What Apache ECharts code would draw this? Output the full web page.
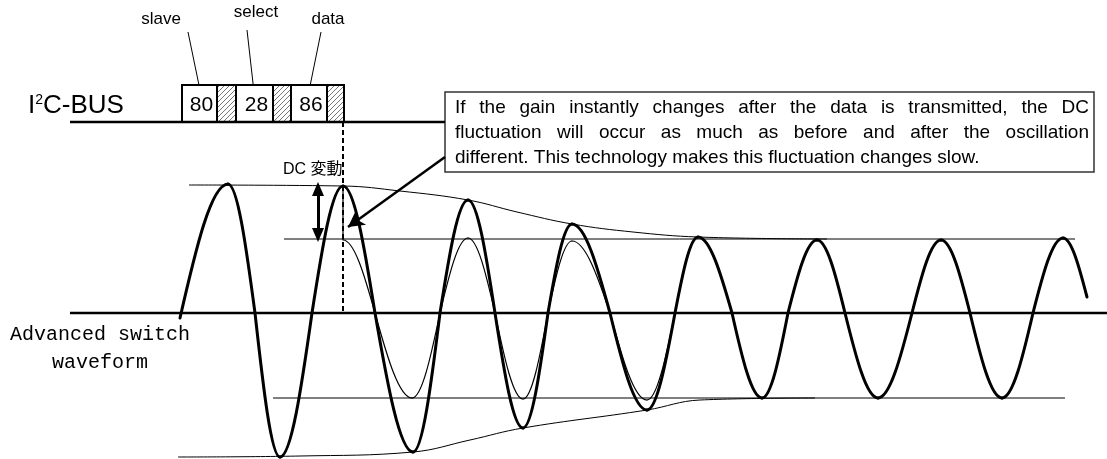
<!DOCTYPE html>
<html><head><meta charset="utf-8">
<script src="https://cdn.jsdelivr.net/npm/echarts@6/dist/echarts.min.js"></script>
<style>html,body{margin:0;padding:0;background:#fff}#c{width:1107px;height:459px}</style>
</head><body><div id="c"></div>
<script>
// time t: arbitrary units from start of the oscillation; amplitude a: arbitrary units, 0 = baseline
// waveforms are given by their read-off extrema and baseline crossings
const thickT = [0,48,75,100,132,163,195,233,260,288,315,343,368,392,430,467,495,518,552,582,608,637,665,698,732,761,790,822,853,883,907];
const thickA = [-5,129,0,-144,0,127,0,-139,0,113,0,-115,0,89,0,-97,0,76,0,-85,0,73,0,-85,0,73,0,-85,0,75,16];
const thinT = [163,195,232,260,288,315,343,368,392,430,467,495,518];
const thinA = [73,0,-85,0,75,0,-86,0,72,0,-87,0,76];
const stepT = [163,163];
const stepA = [127,73];
const upperEnvT = [9,163,220,288,337,392,453,518,647];
const upperEnvA = [128,127,122,113,101,89,81,76,74];
const lowerEnvT = [-2,120,233,290,343,467,520,635];
const lowerEnvA = [-144,-143,-139,-127,-115,-97,-87,-85];
const upperLevelT = [104,895];
const upperLevelA = 74;
const lowerLevelT = [93,885];
const lowerLevelA = -85;
const baselineT = [-110,927];
const busT = [-110,265];
const busLevel = 191;
const boxTop = 228;
const transferT = 163;
const byteStart = [2,37,56,93,111,147];
const byteEnd = [37,56,93,111,147,164];
const byteLabels = ['80','','28','','86',''];
const fieldNames = ['slave','select','data'];
const dcArrowT = 138;
const dcArrowA = [124,78];
const calloutArrowT = [265,168];
const calloutArrowA = [156,86];
const calloutLines = [
  "If the gain instantly changes after the data is transmitted, the DC",
  "fluctuation will occur as much as before and after the oscillation",
  "different. This technology makes this fluctuation changes slow."
];
const dcLabel = 'DC 変動';
const waveLabel = ['Advanced switch','waveform'];

const zip = (ts, as) => ts.map((t, i) => [t, Array.isArray(as) ? as[i] : as]);

// hatch pattern
const pc = document.createElement('canvas');
pc.width = 5; pc.height = 5;
const pctx = pc.getContext('2d');
pctx.fillStyle = '#fff'; pctx.fillRect(0,0,5,5);
pctx.strokeStyle = '#777'; pctx.lineWidth = 1;
pctx.beginPath(); pctx.moveTo(-1,6); pctx.lineTo(6,-1); pctx.stroke();
pctx.beginPath(); pctx.moveTo(-1,1); pctx.lineTo(1,-1); pctx.stroke();
pctx.beginPath(); pctx.moveTo(4,6); pctx.lineTo(6,4); pctx.stroke();

const chart = echarts.init(document.getElementById('c'), null, {renderer:'canvas'});

const plain = (name, data, width, extra) => Object.assign({
  name, type:'line', data, symbol:'none', silent:true, animation:false,
  lineStyle:{color:'#000', width}, emphasis:{disabled:true}
}, extra || {});

// sine-like wave drawn quarter by quarter between read-off extrema and crossings
const waveSeries = (name, ts, as, width) => ({
  name, type:'custom', silent:true, animation:false,
  data: ts.slice(1).map((t, i) => [ts[i], as[i], t, as[i+1]]),
  renderItem(params, api){
    const a = api.coord([api.value(0), api.value(1)]);
    const b = api.coord([api.value(2), api.value(3)]);
    const aExt = Math.abs(api.value(1)) > 30;
    const dx = b[0]-a[0], dy = b[1]-a[1];
    let c1, c2;
    if (aExt) { c1 = [a[0]+0.3515*dx, a[1]]; c2 = [a[0]+0.674*dx, a[1]+0.488*dy]; }
    else { c1 = [a[0]+0.326*dx, a[1]+0.512*dy]; c2 = [a[0]+0.6485*dx, b[1]]; }
    return {type:'bezierCurve',
      shape:{x1:a[0], y1:a[1], cpx1:c1[0], cpy1:c1[1], cpx2:c2[0], cpy2:c2[1], x2:b[0], y2:b[1]},
      style:{stroke:'#000', lineWidth:width, fill:null, lineCap:'round'}};
  }
});

// justified callout text
const mctx = document.createElement('canvas').getContext('2d');
const calloutFont = '19px "Liberation Sans"';
mctx.font = calloutFont;
const graphics = [];
graphics.push({type:'rect', shape:{x:445,y:92,width:649,height:80}, style:{fill:'#fff', stroke:'#333', lineWidth:1.5}, z:1});
const tx0 = 455, tx1 = 1089;
calloutLines.forEach((line, li) => {
  const words = line.split(' ');
  const ws = words.map(w => mctx.measureText(w).width);
  const sum = ws.reduce((p,q)=>p+q,0);
  const last = li === calloutLines.length - 1;
  const gap = last ? mctx.measureText(' ').width : (tx1 - tx0 - sum) / (words.length - 1);
  let x = tx0;
  words.forEach((w, i) => {
    graphics.push({type:'text', x, y:107.5 + li*25, z:2,
      style:{text:w, font:calloutFont, fill:'#000', align:'left', verticalAlign:'middle'}});
    x += ws[i] + gap;
  });
});

// field labels and leader lines
const labelPos = [[161,19],[256,12.5],[328,19]];
const leaders = [[188,32,200,90],[247,30,254,92],[321,32,309,91]];
fieldNames.forEach((n, i) => {
  graphics.push({type:'text', x:labelPos[i][0], y:labelPos[i][1],
    style:{text:n, font:'17px "Liberation Sans"', fill:'#000', align:'center', verticalAlign:'middle'}});
  const l = leaders[i];
  graphics.push({type:'line', shape:{x1:l[0],y1:l[1],x2:l[2],y2:l[3]}, style:{stroke:'#000', lineWidth:1}});
});
graphics.push({type:'text', x:28, y:106,
  style:{text:'{a|I}{s|2}{a|C-BUS}', fill:'#000', align:'left', verticalAlign:'middle',
    rich:{a:{fontSize:26, fontFamily:'Liberation Sans', fill:'#000'}, s:{fontSize:14, fontFamily:'Liberation Sans', fill:'#000', verticalAlign:'top'}}}});
graphics.push({type:'text', x:283, y:170,
  style:{text:dcLabel, font:'16px "Liberation Sans", "Noto Sans CJK JP"', fill:'#000', align:'left', verticalAlign:'middle'}});
graphics.push({type:'text', x:100, y:335,
  style:{text:waveLabel[0], font:'20px "Liberation Mono"', fill:'#000', align:'center', verticalAlign:'middle'}});
graphics.push({type:'text', x:100, y:363,
  style:{text:waveLabel[1], font:'20px "Liberation Mono"', fill:'#000', align:'center', verticalAlign:'middle'}});

const option = {
  animation:false,
  grid:{left:0,right:0,top:0,bottom:0},
  xAxis:{type:'value', min:-180, max:927, show:false},
  yAxis:{type:'value', min:-146, max:313, show:false},
  graphic: graphics,
  series:[
    plain('upperLevel', zip(upperLevelT, upperLevelA), 1),
    plain('lowerLevel', zip(lowerLevelT, lowerLevelA), 1),
    plain('upperEnv', zip(upperEnvT, upperEnvA), 1, {smooth:0.4}),
    plain('lowerEnv', zip(lowerEnvT, lowerEnvA), 1, {smooth:0.4}),
    plain('baseline', zip(baselineT, 0), 2.5, {
      markLine:{silent:true, animation:false, label:{show:false}, emphasis:{disabled:true},
        lineStyle:{color:'#000', width:3, type:'solid'},
        data:[
          [{coord:[dcArrowT, dcArrowA[0]], symbol:'triangle', symbolSize:[12,14]},
           {coord:[dcArrowT, dcArrowA[1]], symbol:'triangle', symbolSize:[12,14]}],
          [{coord:[calloutArrowT[0], calloutArrowA[0]], symbol:'none', lineStyle:{width:2.5}},
           {coord:[calloutArrowT[1], calloutArrowA[1]], symbol:'arrow', symbolSize:[13,16], lineStyle:{width:2.5}}]
        ]}
    }),
    plain('bus', zip(busT, busLevel), 2.5),
    plain('transfer', [[transferT, busLevel],[transferT, 0]], 2, {lineStyle:{color:'#000', width:2, type:[5,3]}}),
    waveSeries('thin', thinT, thinA, 1.2),
    plain('step', zip(stepT, stepA), 1.2),
    waveSeries('thick', thickT, thickA, 3),
    {
      name:'bytes', type:'custom', silent:true, animation:false,
      data: byteStart.map((s,i)=>[s, byteEnd[i]]),
      renderItem(params, api){
        const p0 = api.coord([api.value(0), boxTop]);
        const p1 = api.coord([api.value(1), busLevel]);
        const lbl = byteLabels[params.dataIndex];
        const ch = [{type:'rect', shape:{x:p0[0], y:p0[1], width:p1[0]-p0[0], height:p1[1]-p0[1]},
          style:{fill: lbl ? '#fff' : {image:pc, repeat:'repeat'}, stroke:'#000', lineWidth:2}}];
        if (lbl) ch.push({type:'text', style:{text:lbl, x:(p0[0]+p1[0])/2+2, y:(p0[1]+p1[1])/2+2,
          align:'center', verticalAlign:'middle', font:'21px "Liberation Sans"', fill:'#000'}});
        return {type:'group', children:ch};
      }
    }
  ]
};
chart.setOption(option);
</script></body></html>
